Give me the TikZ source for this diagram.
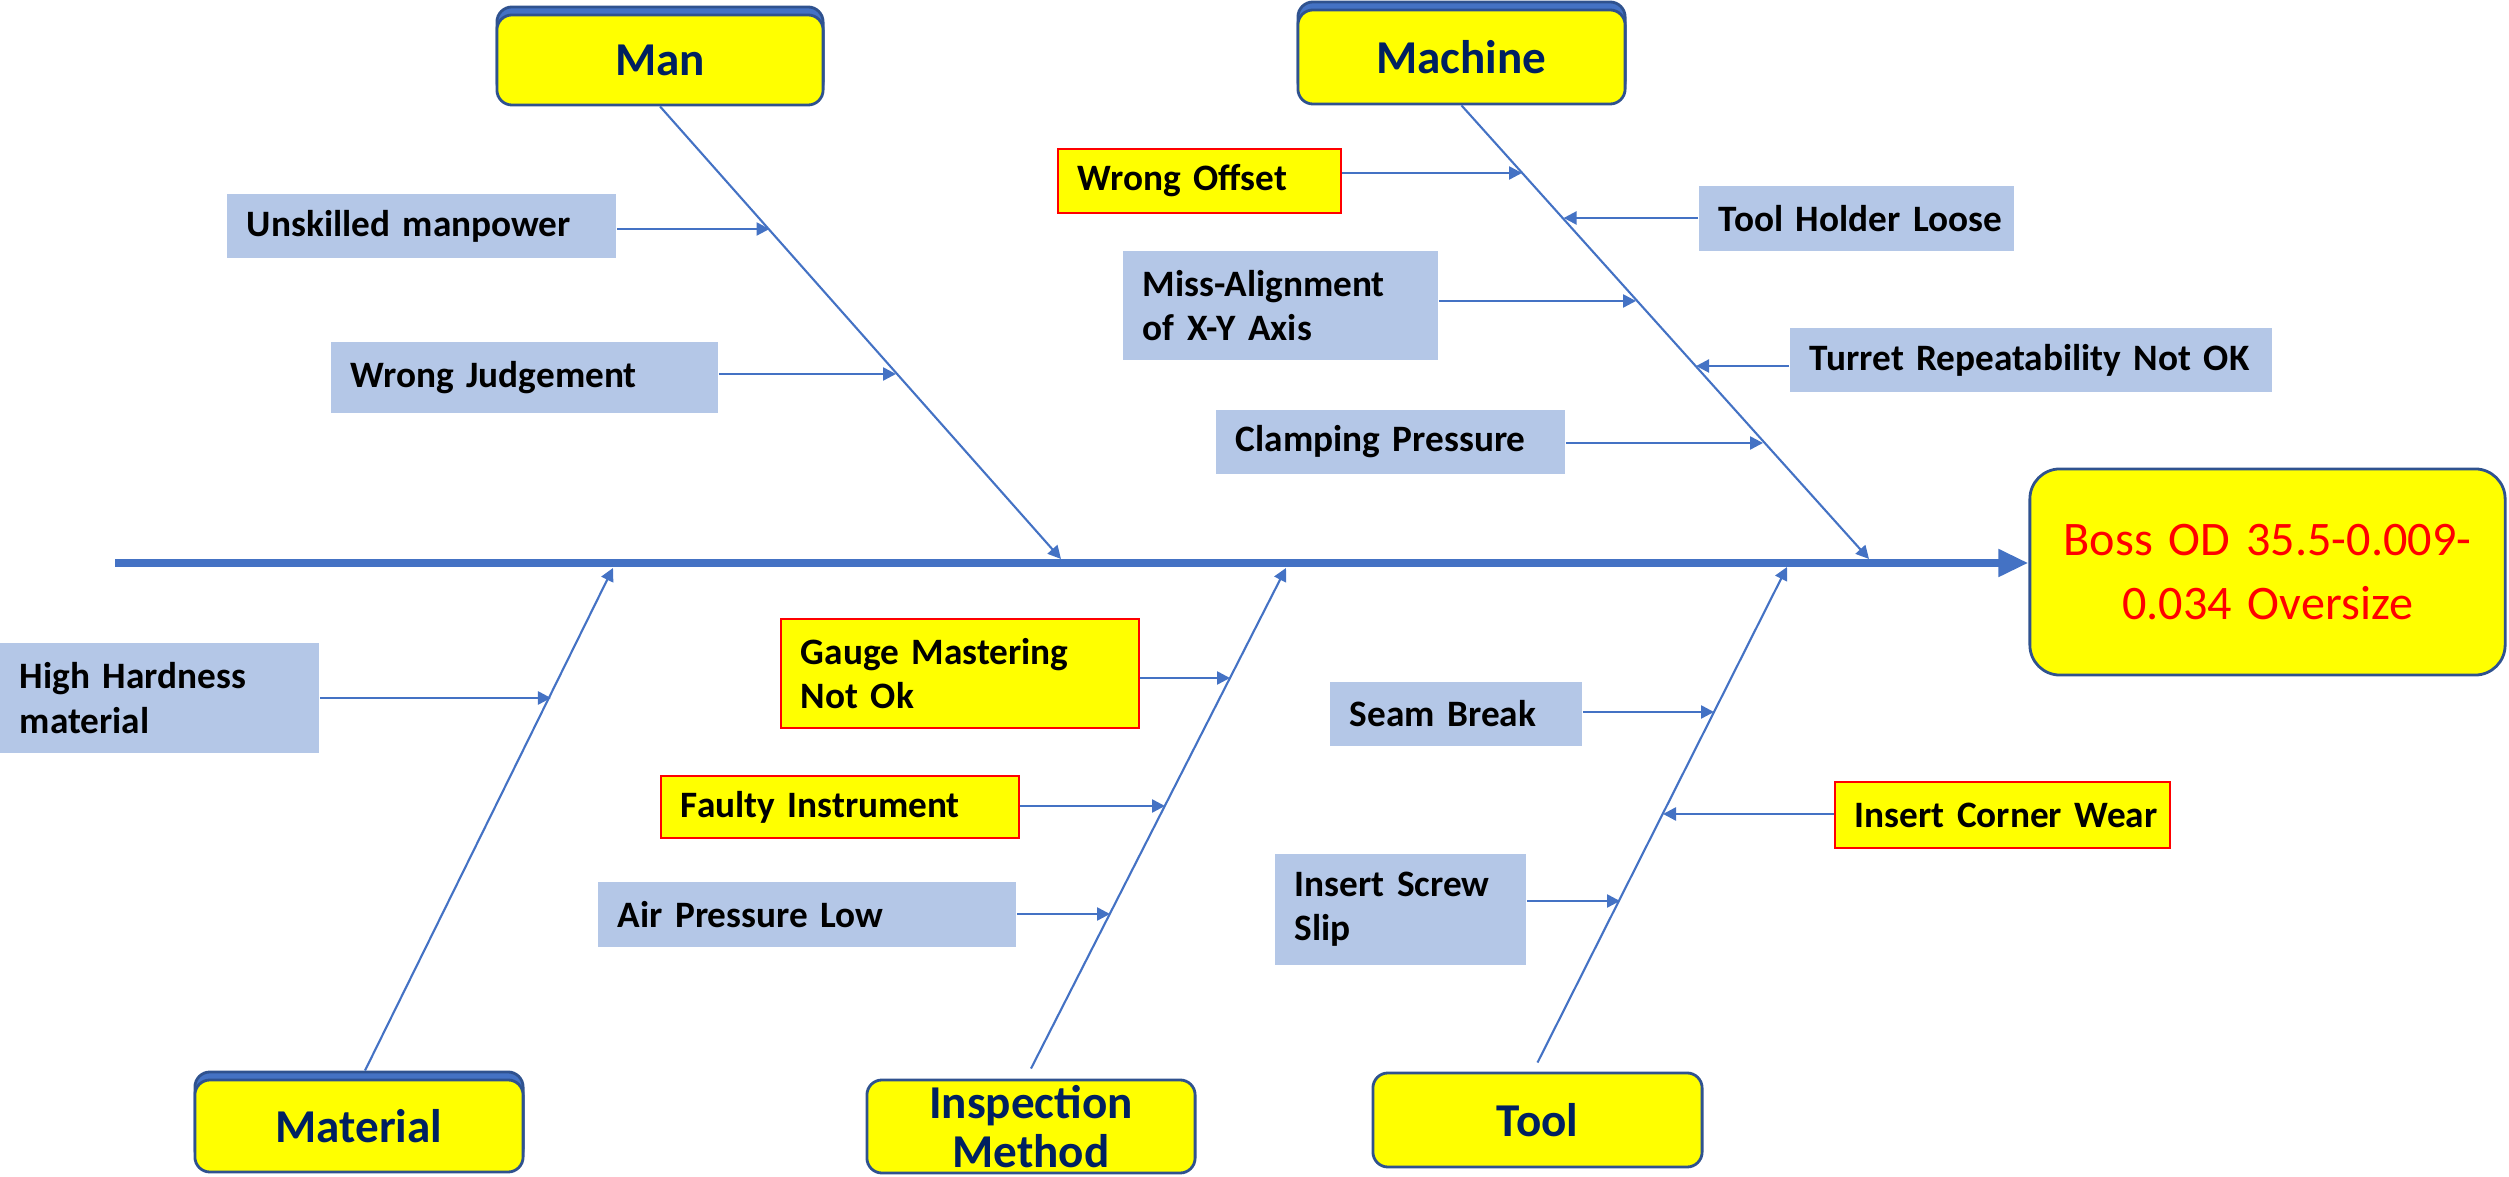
\documentclass[tikz,border=0pt]{standalone}
\usepackage{fontspec}
\setmainfont{Carlito}
\usetikzlibrary{arrows.meta,calc}
\definecolor{lineblue}{HTML}{4472C4}
\definecolor{cfill}{HTML}{B4C7E7}
\definecolor{catborder}{HTML}{2F528F}
\definecolor{navy}{HTML}{002060}
\definecolor{yel}{HTML}{FFFF00}
\definecolor{redc}{HTML}{FF0000}
\begin{document}
\begin{tikzpicture}[x=0.01cm,y=-0.01cm,
  causebox/.style={fill=cfill, draw=none, inner xsep=0.2cm, inner ysep=0pt, align=left,
    font=\bfseries\fontsize{10.6}{12.6}\selectfont, anchor=center},
  ycause/.style={causebox, fill=yel, draw=redc, line width=0.6pt},
  catbox/.style={draw=catborder, fill=yel, line width=0.8pt, rounded corners=0.15cm,
    font=\bfseries\fontsize{13.4}{13.8}\selectfont, text=navy, align=center, inner sep=0pt},
  catback/.style={draw=catborder, fill=lineblue, line width=0.8pt, rounded corners=0.15cm, inner sep=0pt},
  bone/.style={draw=lineblue, line width=0.6pt, -{Triangle[length=0.13cm,width=0.13cm]}},
  carrow/.style={draw=lineblue, line width=0.7pt, -{Triangle[length=0.13cm,width=0.13cm]}},
  spine/.style={draw=lineblue, line width=0.08cm, -{Triangle[length=0.3cm,width=0.26cm]}}
]
\useasboundingbox (0,0) rectangle (2509,1177);

% effect
\node[draw=catborder, fill=yel, line width=0.8pt, rounded corners=0.3cm, minimum width=4.75cm,
  minimum height=2.06cm, text width=4.5cm, align=center, text=redc, inner sep=0pt,
  font=\fontsize{13.7}{18.2}\selectfont] (effect) at (2267.5,572) {Boss OD 35.5-0.009-\\0.034 Oversize};

% category boxes
\node[catback, minimum width=3.26cm, minimum height=0.9cm] (manb) at (660,52) {};
\node[catbox, minimum width=3.26cm, minimum height=0.9cm] (man) at (660,60) {Man};
\node[catback, minimum width=3.27cm, minimum height=0.94cm] (machb) at (1461.5,49) {};
\node[catbox, minimum width=3.27cm, minimum height=0.94cm] (machine) at (1461.5,57) {Machine};
\node[catback, minimum width=3.28cm, minimum height=0.92cm] (matb) at (359,1118) {};
\node[catbox, minimum width=3.28cm, minimum height=0.92cm] (material) at (359,1126) {Material};
\node[catbox, minimum width=3.28cm, minimum height=0.93cm] (insp) at (1031,1126.5) {Inspection\\Method};
\node[catbox, minimum width=3.29cm, minimum height=0.94cm] (tool) at (1537.5,1120) {Tool};

% cause boxes
\node[causebox, text width=3.49cm, minimum height=0.64cm] (unsk) at (421.5,226) {Unskilled manpower};
\node[causebox, text width=3.47cm, minimum height=0.71cm] (wj) at (524.5,377.5) {Wrong Judgement};
\node[ycause, text width=2.43cm, minimum height=0.64cm] (wo) at (1199.5,181) {Wrong Offset};
\node[causebox, text width=2.75cm, minimum height=0.65cm] (thl) at (1856.5,218.5) {\mbox{Tool Holder Loose}};
\node[causebox, text width=2.75cm, minimum height=1.09cm] (mis) at (1280.5,305.5) {Miss-Alignment\\of X-Y Axis};
\node[causebox, text width=4.42cm, minimum height=0.64cm] (tur) at (2031,360) {\mbox{Turret Repeatability Not OK}};
\node[causebox, text width=3.09cm, minimum height=0.64cm] (clp) at (1390.5,442) {Clamping Pressure};
\node[causebox, text width=2.79cm, minimum height=1.10cm] (hh) at (159.5,698) {High Hardness\\material};
\node[ycause, text width=3.18cm, minimum height=1.09cm] (gm) at (960,673.5) {Gauge Mastering\\Not Ok};
\node[ycause, text width=3.18cm, minimum height=0.62cm] (fi) at (840,807) {Faulty Instrument};
\node[causebox, text width=3.78cm, minimum height=0.65cm] (ap) at (807,914.5) {Air Pressure Low};
\node[causebox, text width=2.12cm, minimum height=0.64cm] (sb) at (1456,714) {Seam Break};
\node[ycause, text width=2.95cm, minimum height=0.66cm] (icw) at (2002.5,815) {\mbox{Insert Corner Wear}};
\node[causebox, text width=2.11cm, minimum height=1.11cm] (iss) at (1400.5,909.5) {Insert Screw\\Slip};

% spine
\coordinate (spS) at (115,563);
\draw[spine] (spS) -- (spS -| effect.west);

% bone coordinates
\coordinate (manT) at (1061,559);
\coordinate (machT) at (1869,559);
\coordinate (matS) at ([xshift=0.06cm]matb.north);
\coordinate (matT) at (613,568);
\coordinate (inspS) at ([yshift=0.1cm]insp.north);
\coordinate (inspT) at (1286,568);
\coordinate (toolS) at ([yshift=0.09cm]tool.north);
\coordinate (toolT) at (1787,567);

\draw[bone] (man.south) -- (manT);
\draw[bone] (machine.south) -- (machT);
\draw[bone] (matS) -- (matT);
\draw[bone] (inspS) -- (inspT);
\draw[bone] (toolS) -- (toolT);

% cause tips
\coordinate (unskT) at (769.5,229);
\coordinate (wjT) at (896,374);
\coordinate (woT) at (1522,173);
\coordinate (thlT) at (1563.6,218);
\coordinate (misT) at (1636,301);
\coordinate (turT) at (1696.1,366);
\coordinate (clpT) at (1763,443);
\coordinate (hhT) at (551,698);
\coordinate (gmT) at (1230,678);
\coordinate (fiT) at (1165,806);
\coordinate (apT) at (1110,914);
\coordinate (sbT) at (1714,712);
\coordinate (icwT) at (1663,814);
\coordinate (issT) at (1620,901);

\draw[carrow] (unsk.east |- unskT) -- (unskT);
\draw[carrow] (wj.east |- wjT) -- (wjT);
\draw[carrow] (wo.east |- woT) -- (woT);
\draw[carrow] (thl.west |- thlT) -- (thlT);
\draw[carrow] (mis.east |- misT) -- (misT);
\draw[carrow] (tur.west |- turT) -- (turT);
\draw[carrow] (clp.east |- clpT) -- (clpT);
\draw[carrow] (hh.east |- hhT) -- (hhT);
\draw[carrow] (gm.east |- gmT) -- (gmT);
\draw[carrow] (fi.east |- fiT) -- (fiT);
\draw[carrow] (ap.east |- apT) -- (apT);
\draw[carrow] (sb.east |- sbT) -- (sbT);
\draw[carrow] (icw.west |- icwT) -- (icwT);
\draw[carrow] (iss.east |- issT) -- (issT);
\end{tikzpicture}
\end{document}
